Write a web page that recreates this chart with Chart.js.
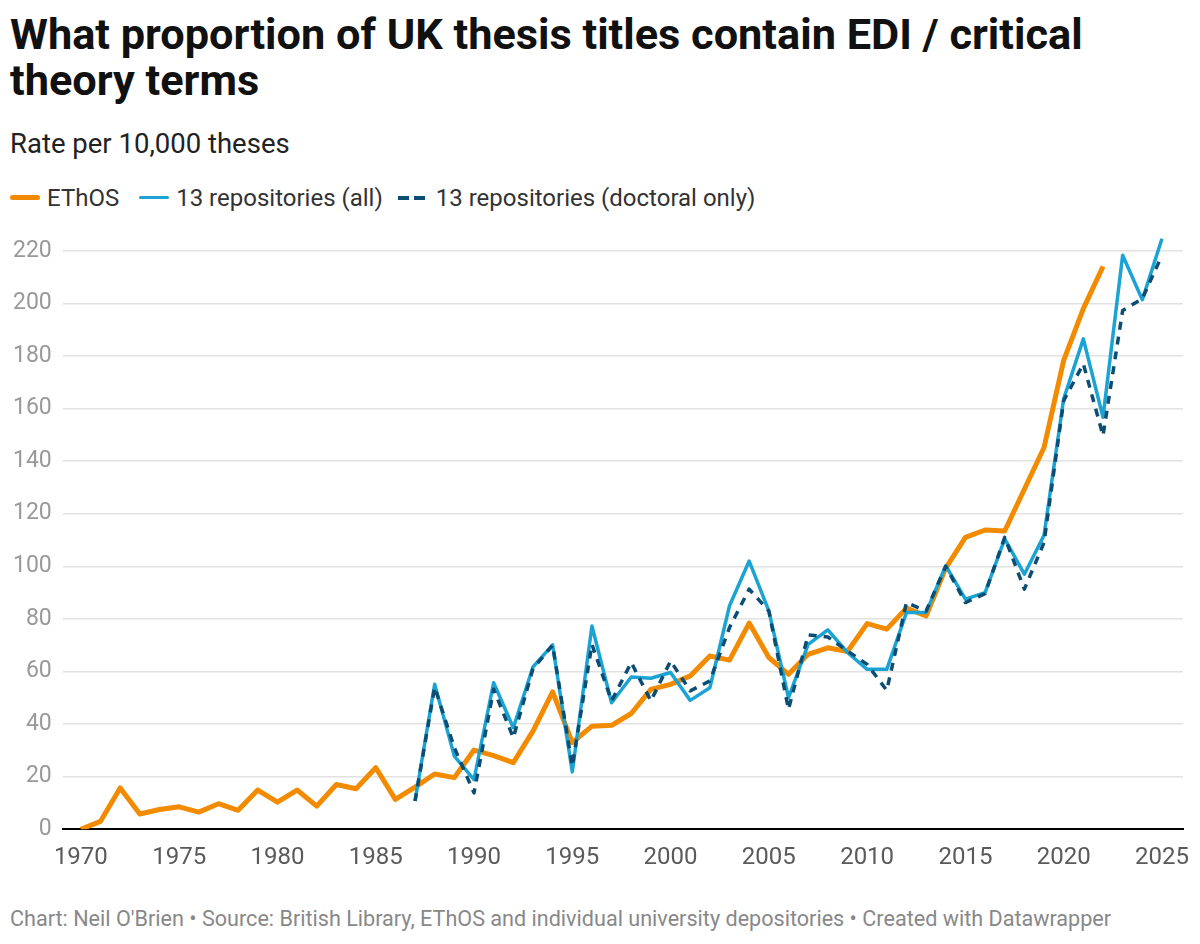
<!DOCTYPE html>
<html lang="en">
<head>
<meta charset="UTF-8">
<title>UK thesis titles with EDI / critical theory terms</title>
<script src="https://cdn.jsdelivr.net/npm/chart.js@4.4.0/dist/chart.umd.min.js"></script>
<style>
    html, body { margin: 0; padding: 0; background: #fff; }
    body { width: 1200px; height: 944px; position: relative; overflow: hidden; font-family: Roboto, sans-serif; }
    .title { position: absolute; left: 10px; top: 12px; width: 1190px; font-size: 43.3px; line-height: 46px; font-weight: 700; color: #111; }
    .subtitle { position: absolute; left: 10px; top: 128px; font-size: 27.5px; line-height: 32px; color: #222; }
    .legend { position: absolute; left: 10px; top: 184px; font-size: 24px; line-height: 28px; color: #333; white-space: nowrap; }
    .legend span.item { display: inline-block; margin-right: 20px; }
    .legend i { display: inline-block; width: 30px; vertical-align: middle; margin-right: 7px; position: relative; top: -2px; }
    .legend i.dash { width: 27px; height: 4px; margin-left: -5px; margin-right: 11px;
        background: repeating-linear-gradient(to right, #0c4e73 0 11px, transparent 11px 16px); }
    .footer { position: absolute; left: 10px; top: 906px; font-size: 21.6px; line-height: 26px; color: #888; white-space: nowrap; }
    #wrap { position: absolute; left: 0; top: 230px; width: 1200px; height: 658px; }
</style>
</head>
<body>
    <div class="title">What proportion of UK thesis titles contain EDI / critical<br>theory terms</div>
    <div class="subtitle">Rate per 10,000 theses</div>
    <div class="legend"><span class="item"><i style="height: 5px; background: #f28b00; border-radius: 3px;"></i>EThOS</span><span class="item"><i style="height: 3.5px; background: #1ba3d3; border-radius: 2px;"></i>13 repositories (all)</span><span class="item"><i class="dash"></i>13 repositories (doctoral only)</span></div>
    <div id="wrap"><canvas id="chart"></canvas></div>
    <div class="footer">Chart: Neil O'Brien • Source: British Library, EThOS and individual university depositories • Created with Datawrapper</div>

<script>
var years = [1970, 1971, 1972, 1973, 1974, 1975, 1976, 1977, 1978, 1979,
             1980, 1981, 1982, 1983, 1984, 1985, 1986, 1987, 1988, 1989,
             1990, 1991, 1992, 1993, 1994, 1995, 1996, 1997, 1998, 1999,
             2000, 2001, 2002, 2003, 2004, 2005, 2006, 2007, 2008, 2009,
             2010, 2011, 2012, 2013, 2014, 2015, 2016, 2017, 2018, 2019,
             2020, 2021, 2022, 2023, 2024, 2025];

// EThOS (1970-2022)
var ethos = [0, 3, 15.7, 5.8, 7.5, 8.5, 6.5, 9.7, 7.2, 14.9,
             10.3, 14.9, 8.8, 17, 15.4, 23.4, 11.3, 16, 21, 19.6,
             30.1, 28, 25.3, 37.3, 52.2, 32.9, 39.2, 39.5, 44, 53.2,
             55.1, 58.3, 65.9, 64.3, 78.4, 65.3, 58.9, 66.5, 69, 67.6,
             78.2, 76.1, 84.1, 81.1, 99.3, 111, 113.8, 113.4, 129.3, 145.2,
             178.3, 198, 214, null, null, null];

// 13 repositories, all theses (1987-2025)
var repoAll = [null, null, null, null, null, null, null, null, null, null,
               null, null, null, null, null, null, null, 10.7, 55.1, 27.8,
               18.9, 55.7, 38.6, 61.7, 70.1, 21.8, 77.3, 48.1, 57.9, 57.4,
               59.6, 49, 53.8, 85, 102, 83, 50, 70.3, 75.8, 67.2,
               60.8, 60.8, 82.4, 82.4, 100.2, 87.5, 90, 110.4, 97, 111.8,
               163.7, 186.5, 156.7, 218.3, 201.4, 224.6];

// 13 repositories, doctoral only (1987-2025)
var repoDoc = [null, null, null, null, null, null, null, null, null, null,
               null, null, null, null, null, null, null, 10.7, 54, 31,
               13.8, 53.2, 34.8, 61, 70, 24, 70.3, 48.8, 63.4, 48.8,
               64, 52.6, 56.4, 76.7, 91.3, 83, 45.6, 73.9, 73.1, 67.8,
               62.7, 52.8, 86.2, 83, 100, 86.2, 89.6, 111, 91.3, 109,
               163, 177, 149.7, 197.3, 201.8, 218.3];

var xTicks = [1970, 1975, 1980, 1985, 1990, 1995, 2000, 2005, 2010, 2015, 2020, 2025];
var yTicks = [0, 20, 40, 60, 80, 100, 120, 140, 160, 180, 200, 220];

function toPoints(values) {
    var pts = [];
    for (var i = 0; i < years.length; i++) {
        if (values[i] !== null) pts.push({x: years[i], y: values[i]});
    }
    return pts;
}

// stop tick labels from pushing the plot area around
function noPadding(scale) {
    scale.paddingLeft = 0;
    scale.paddingRight = 0;
    scale.paddingTop = 0;
    scale.paddingBottom = 0;
}

Chart.defaults.font.family = 'Roboto, sans-serif';

var chart = new Chart(document.getElementById('chart'), {
    type: 'line',
    data: {
        datasets: [
            {label: 'EThOS', data: toPoints(ethos), borderColor: '#f28b00', borderWidth: 5, order: 3},
            {label: '13 repositories (all)', data: toPoints(repoAll), borderColor: '#1ba3d3', borderWidth: 3.5, order: 2},
            {label: '13 repositories (doctoral only)', data: toPoints(repoDoc), borderColor: '#0c4e73', borderWidth: 3.5, borderDash: [8, 7], order: 1}
        ]
    },
    options: {
        responsive: true,
        maintainAspectRatio: false,
        animation: false,
        layout: {padding: {left: 2, right: 17, top: 5, bottom: 2}},
        elements: {
            point: {radius: 0, hoverRadius: 0},
            line: {tension: 0, borderCapStyle: 'butt', borderJoinStyle: 'round'}
        },
        plugins: {legend: {display: false}, tooltip: {enabled: false}},
        scales: {
            x: {
                type: 'linear',
                min: 1969.08,
                max: 2026.07,
                afterBuildTicks: function(scale) {
                    scale.ticks = xTicks.map(function(v) { return {value: v}; });
                },
                afterFit: noPadding,
                grid: {display: false, drawTicks: false},
                border: {display: true, color: '#000', width: 2},
                ticks: {
                    color: '#5a5a5a',
                    font: {size: 24},
                    padding: 14,
                    maxRotation: 0,
                    autoSkip: false,
                    callback: function(v) { return String(v); }
                }
            },
            y: {
                min: 0,
                max: 226,
                afterBuildTicks: function(scale) {
                    scale.ticks = yTicks.map(function(v) { return {value: v}; });
                },
                afterFit: noPadding,
                grid: {
                    drawTicks: false,
                    color: function(ctx) { return ctx.tick && ctx.tick.value === 0 ? 'rgba(0,0,0,0)' : '#e2e2e2'; },
                    lineWidth: 1.5
                },
                border: {display: false},
                ticks: {
                    color: '#999',
                    font: {size: 23},
                    padding: 11,
                    callback: function(v) { return String(v); }
                }
            }
        }
    }
});
</script>
</body>
</html>
